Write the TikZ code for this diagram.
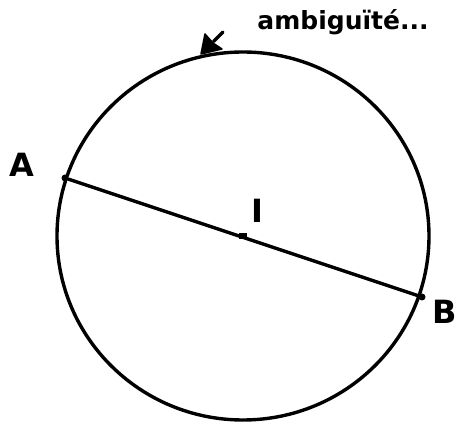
\documentclass[tikz,border=0pt]{standalone}
\usepackage{fontspec}
\setmainfont{DejaVu Sans}
\usetikzlibrary{arrows.meta,calc}
\begin{document}
\begin{tikzpicture}[x=1pt,y=-1pt,
  stroke/.style={line width=3.4pt,line cap=round,line join=round},
  lbl/.style={font=\fontsize{32}{32}\selectfont\bfseries,inner sep=0pt},
  pt/.style={circle,fill=black,inner sep=0pt,minimum size=7pt}]
\useasboundingbox (0,0) rectangle (456,425);
\coordinate (I) at (243,236);
\draw[stroke] (I) ellipse [x radius=186, y radius=184];
\node[pt] (A) at (65,178) {};
\node[pt] (B) at (422,297) {};
\draw[stroke] (A) -- (B);
\node[fill=black,minimum width=8pt,minimum height=6pt,inner sep=0pt] (Im) at (I) {};
\node[lbl] (la) at (22,165) {A};
\node[lbl] (lb) at (445,312) {B};
\node[lbl] (li) at (257,211) {I};
\node[font=\fontsize{25}{25}\selectfont\bfseries,inner sep=0pt] (amb) at (343,22) {ambiguïté...};
\coordinate (as) at (223,32);
\coordinate (ae) at (201,54);
\coordinate (h1) at (205,34);
\coordinate (h2) at (222,49);
\draw[stroke] (as) -- ($(h1)!0.5!(h2)$);
\fill[line join=round,draw,line width=1.5pt] (ae) -- (h1) -- (213,43) -- (h2) -- cycle;
\end{tikzpicture}
\end{document}
